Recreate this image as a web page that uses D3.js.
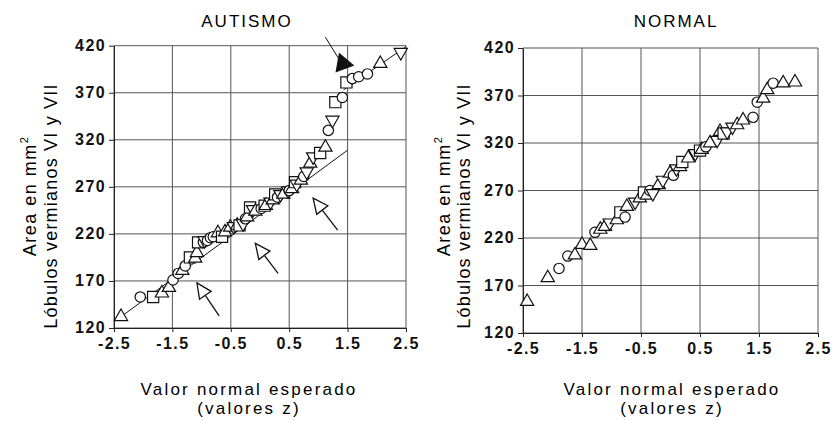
<!DOCTYPE html>
<html>
<head>
<meta charset="utf-8">
<script src="https://cdn.jsdelivr.net/npm/d3@7"></script>
<style>
  body { margin: 0; background: #fff; }
  svg { font-family: "Liberation Sans", Arial, Helvetica, sans-serif; }
</style>
</head>
<body>
<svg id="chart" width="833" height="421"></svg>
<script>
// tick values and texts
var xTicks = [-2.5, -1.5, -0.5, 0.5, 1.5, 2.5]
var yTicks = [120, 170, 220, 270, 320, 370, 420]
var xLabel = ["Valor normal esperado", "(valores z)"]
var yLabel1 = "Area en mm"
var yLabel2 = "Lóbulos vermianos VI y VII"

// AUTISMO: [z, area]
var autTriUp = [[-2.38,132],[-1.68,157],[-1.56,163],[-1.33,181],[-1.11,194],[-1.08,200],[-0.72,221],[-0.6,222],
  [-0.51,227],[-0.39,229],[-0.22,238],[-0.08,244],[0.1,250],[0.22,256],[0.4,262],[0.55,268],[0.7,277],
  [0.86,295],[1.12,312],[2.06,401]]
var autTriDown = [[-0.95,213],[-0.45,228],[-0.29,231],[-0.12,246],[0.18,254],[0.35,262],[0.48,266],[0.63,273],
  [0.8,286],[0.91,302],[1.24,341],[2.41,413]]
var autCircle = [[-2.05,153],[-1.49,171],[-1.4,178],[-1.28,186],[-0.97,211],[-0.9,213],[-0.85,216],[-0.8,217],
  [-0.25,236],[0.02,247],[0.3,259],[0.5,266],[0.75,281],[1.17,330],[1.41,365],[1.58,385],[1.69,387],[1.84,390]]
var autSquare = [[-1.83,153],[-1.2,195],[-1.06,211],[-0.65,217],[-0.35,229],[-0.17,248],[0.08,250],[0.26,262],
  [0.6,275],[1.03,306],[1.29,360],[1.48,381]]
var autFilled = [[1.42,401]]
var autFitLow = [[-2.38,132],[1.5,309]]
var autFitHigh = [[1.43,373],[2.5,419]]
// open arrows: [tail z, tail area, tip z, tip area]
var autArrows = [[-0.7,133,-1.08,168],[0.31,178,-0.08,210],[1.33,224,0.91,258]]
var autPointer = [[1.12,429],[1.36,405]]

// NORMAL: [z, area]
var normTriUp = [[-2.43,153],[-2.08,178],[-1.62,202],[-1.5,213],[-1.36,212],[-1.19,229],[-1.11,232],[-0.91,239],
  [-0.74,253],[-0.52,262],[-0.4,265],[-0.2,276],[-0.01,288],[0.16,295],[0.3,304],[0.53,313],[0.67,320],
  [0.84,332],[1.13,339],[1.23,344],[1.57,367],[1.64,376],[1.91,383],[2.11,384]]
var normTriDown = [[-1.03,236],[-0.6,258],[-0.3,267],[-0.13,281],[0.1,293],[0.42,309],[0.79,323],[0.96,332],[1.05,337]]
var normCircle = [[-1.89,188],[-1.74,201],[-1.28,226],[-0.77,242],[-0.35,270],[0.05,286],[0.6,316],[1.4,347],
  [1.47,363],[1.74,383]]
var normSquare = [[-0.85,247],[-0.45,268],[0.2,300],[0.5,312],[0.9,330]]

var svg = d3.select("#chart")

function tag(arr, kind) {
  return arr.map(function(d) { return {z: d[0], a: d[1], kind: kind} })
}

function panel(o) {
  var g = svg.append("g")
  var x = d3.scaleLinear().domain([-2.5, 2.5]).range([o.x0, o.x1])
  var y = d3.scaleLinear().domain([120, 420]).range([o.y0, o.y1])

  // grid
  g.selectAll(".gx").data(xTicks).enter().append("line")
    .attr("x1", function(d) { return x(d) }).attr("x2", function(d) { return x(d) })
    .attr("y1", y(120)).attr("y2", y(420))
    .attr("stroke", "#555").attr("stroke-width", 1)
  g.selectAll(".gy").data(yTicks).enter().append("line")
    .attr("x1", x(-2.5)).attr("x2", x(2.5))
    .attr("y1", function(d) { return y(d) }).attr("y2", function(d) { return y(d) })
    .attr("stroke", "#555").attr("stroke-width", 1)

  var ax = g.append("g").attr("transform", "translate(" + x(-2.5) + ",0)")
    .call(d3.axisLeft(y).tickValues(yTicks).tickSize(5).tickPadding(3).tickSizeOuter(0))
  var bx = g.append("g").attr("transform", "translate(0," + y(120) + ")")
    .call(d3.axisBottom(x).tickValues(xTicks).tickSize(4).tickPadding(6).tickSizeOuter(0)
      .tickFormat(function(d) { return d.toFixed(1) }))
  ;[ax, bx].forEach(function(a) {
    a.selectAll("text").attr("font-size", 16).attr("font-weight", "bold").attr("fill", "#111")
      .attr("font-family", "Liberation Sans, Arial, sans-serif").style("letter-spacing", "1.4px")
    a.selectAll("line, path").attr("stroke", "#222")
  })
  ax.selectAll("text").attr("dy", "0.3em")

  // titles
  g.append("text").attr("x", o.tx).attr("y", 27).attr("text-anchor", "middle")
    .attr("font-size", 17).style("letter-spacing", "2px").text(o.title)
  g.selectAll(".xl").data(xLabel).enter().append("text")
    .attr("x", o.xlx).attr("y", function(d, i) { return 395 + i * 19 })
    .attr("text-anchor", "middle").attr("font-size", 17).style("letter-spacing", "2.2px")
    .text(function(d) { return d })
  var t1 = g.append("text").attr("transform", "translate(" + o.yl1 + ",196) rotate(-90)")
    .attr("text-anchor", "middle").attr("font-size", 18).style("letter-spacing", "1.5px")
  t1.append("tspan").text(yLabel1)
  t1.append("tspan").attr("font-size", 11).attr("dy", -8).text("2")
  g.append("text").attr("transform", "translate(" + o.yl2 + ",206) rotate(-90)")
    .attr("text-anchor", "middle").attr("font-size", 18).style("letter-spacing", "1.2px")
    .text(yLabel2)

  // fit lines
  var line = d3.line().x(function(d) { return x(d[0]) }).y(function(d) { return y(d[1]) })
  ;(o.fits || []).forEach(function(f) {
    g.append("path").attr("d", line(f)).attr("fill", "none").attr("stroke", "#111").attr("stroke-width", 1)
  })

  // points
  var pts = o.points.sort(function(a, b) { return a.z - b.z })
  var shapes = {
    up: d3.symbol().type(d3.symbolTriangle).size(76),
    down: d3.symbol().type(d3.symbolTriangle).size(76),
    circle: d3.symbol().type(d3.symbolCircle).size(84),
    square: d3.symbol().type(d3.symbolSquare).size(125),
    filled: d3.symbol().type(d3.symbolTriangle).size(140)
  }
  g.selectAll(".pt").data(pts).enter().append("path")
    .attr("d", function(d) { return shapes[d.kind]() })
    .attr("transform", function(d) {
      var r = d.kind == "down" ? 180 : (d.kind == "filled" ? -20 : 0)
      return "translate(" + x(d.z) + "," + y(d.a) + ") rotate(" + r + ")"
    })
    .attr("fill", function(d) { return d.kind == "filled" ? "#111" : "#fff" })
    .attr("stroke", "#111").attr("stroke-width", 1.2)

  // open arrows
  ;(o.arrows || []).forEach(function(ar) {
    var x1 = x(ar[0]), y1 = y(ar[1]), x2 = x(ar[2]), y2 = y(ar[3])
    var ang = Math.atan2(y2 - y1, x2 - x1)
    var len = 15, hw = 7
    var bx0 = x2 - len * Math.cos(ang), by0 = y2 - len * Math.sin(ang)
    g.append("line").attr("x1", x1).attr("y1", y1).attr("x2", bx0).attr("y2", by0)
      .attr("stroke", "#111").attr("stroke-width", 1.3)
    var px = -Math.sin(ang) * hw, py = Math.cos(ang) * hw
    g.append("path")
      .attr("d", "M" + x2 + "," + y2 + "L" + (bx0 + px) + "," + (by0 + py) + "L" + (bx0 - px) + "," + (by0 - py) + "Z")
      .attr("fill", "#fff").attr("stroke", "#111").attr("stroke-width", 1.3)
  })
  if (o.pointer) {
    g.append("path").attr("d", line(o.pointer)).attr("fill", "none").attr("stroke", "#111").attr("stroke-width", 1)
  }
}

panel({
  x0: 114, x1: 406, y0: 328, y1: 45.7, title: "AUTISMO", tx: 247, xlx: 249, yl1: 36, yl2: 57,
  points: tag(autTriUp, "up").concat(tag(autTriDown, "down"), tag(autCircle, "circle"),
    tag(autSquare, "square"), tag(autFilled, "filled")),
  fits: [autFitLow, autFitHigh], arrows: autArrows, pointer: autPointer
})
panel({
  x0: 523, x1: 818, y0: 333, y1: 48, title: "NORMAL", tx: 676, xlx: 672, yl1: 450, yl2: 470,
  points: tag(normTriUp, "up").concat(tag(normTriDown, "down"), tag(normCircle, "circle"), tag(normSquare, "square"))
})
</script>
</body>
</html>
